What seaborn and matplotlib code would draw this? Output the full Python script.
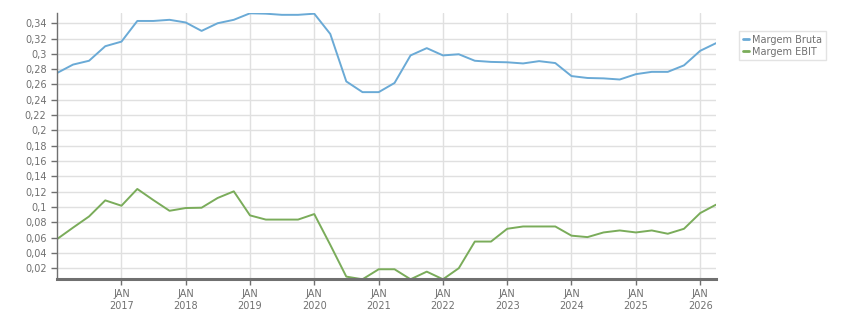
import pandas as pd
import numpy as np
import matplotlib
matplotlib.use("Agg")
import matplotlib.pyplot as plt
import matplotlib.ticker as mticker
import seaborn as sns

# Dados trimestrais
datas = pd.date_range("2016-01-01", periods=42, freq="QS")

margem_bruta = [
    0.275, 0.286, 0.291, 0.310, 0.316, 0.343, 0.343, 0.3445, 0.341, 0.330,
    0.340, 0.3445, 0.353, 0.3525, 0.351, 0.351, 0.3525, 0.326, 0.264, 0.250,
    0.250, 0.262, 0.298, 0.3075, 0.298, 0.2995, 0.291, 0.2895, 0.289, 0.2875,
    0.2905, 0.288, 0.271, 0.2685, 0.268, 0.2665, 0.2735, 0.2765, 0.2765, 0.285,
    0.304, 0.314,
]

margem_ebit = [
    0.058, 0.073, 0.0876, 0.1086, 0.1016, 0.1235, 0.109, 0.095, 0.0986, 0.099,
    0.1117, 0.1204, 0.089, 0.0835, 0.0835, 0.0835, 0.0907, 0.0505, 0.009, 0.0055,
    0.0186, 0.0186, 0.0055, 0.0155, 0.0055, 0.020, 0.0548, 0.0548, 0.0715, 0.0745,
    0.0745, 0.0745, 0.0625, 0.0606, 0.0667, 0.0693, 0.0667, 0.0693, 0.065, 0.0715,
    0.092, 0.103,
]

series = ["Margem Bruta", "Margem EBIT"]
cores = ["#6aaad6", "#7aac5a"]
anos = list(range(2017, 2027))

df = pd.DataFrame({
    "Data": np.concatenate([datas, datas]),
    "Valor": margem_bruta + margem_ebit,
    "Serie": np.repeat(series, len(datas)),
})

sns.set_style("white")
plt.rcParams["font.family"] = ["DejaVu Sans"]

fig = plt.figure(figsize=(8.51, 3.13), dpi=100)
ax = fig.add_axes([0.067, 0.1077, 0.7744, 0.8498])

sns.lineplot(data=df, x="Data", y="Valor", hue="Serie", palette=cores,
             linewidth=1.4, ax=ax)

ax.set_xlim(datas[0], datas[-1])
ax.set_ylim(min(margem_ebit), max(margem_bruta))

# Eixo y
ax.set_yticks(np.arange(0.02, 0.345, 0.02))
ax.yaxis.set_major_formatter(
    mticker.FuncFormatter(lambda v, p: f"{round(v, 2):g}".replace(".", ",")))

# Eixo x
ax.set_xticks([pd.Timestamp(f"{a}-01-01") for a in anos])
ax.set_xticklabels([f"JAN\n{a}" for a in anos])

ax.set_xlabel("")
ax.set_ylabel("")
ax.grid(True, color="#e0e0e0", linewidth=1)
ax.set_axisbelow(True)

for lado in ["top", "right"]:
    ax.spines[lado].set_visible(False)
ax.spines["left"].set_color("#707070")
ax.spines["left"].set_linewidth(1)
ax.spines["bottom"].set_color("#707070")
ax.spines["bottom"].set_linewidth(2.2)

ax.tick_params(axis="y", colors="#707070", labelsize=7, length=4, width=1,
               direction="out", left=True)
ax.tick_params(axis="x", colors="#707070", labelsize=7, length=4, width=1,
               direction="out", bottom=True, pad=3)

leg = ax.legend(loc="upper left", bbox_to_anchor=(0.868, 0.902),
                bbox_transform=fig.transFigure, frameon=True, fancybox=False,
                fontsize=7, handlelength=0.7, handletextpad=0.3,
                borderpad=0.4, labelspacing=0.2, borderaxespad=0)
leg.get_frame().set_edgecolor("#dddddd")
leg.get_frame().set_linewidth(1)
for t in leg.get_texts():
    t.set_color("#707070")
for l in leg.get_lines():
    l.set_linewidth(2)

fig.savefig("out.png", dpi=100)
